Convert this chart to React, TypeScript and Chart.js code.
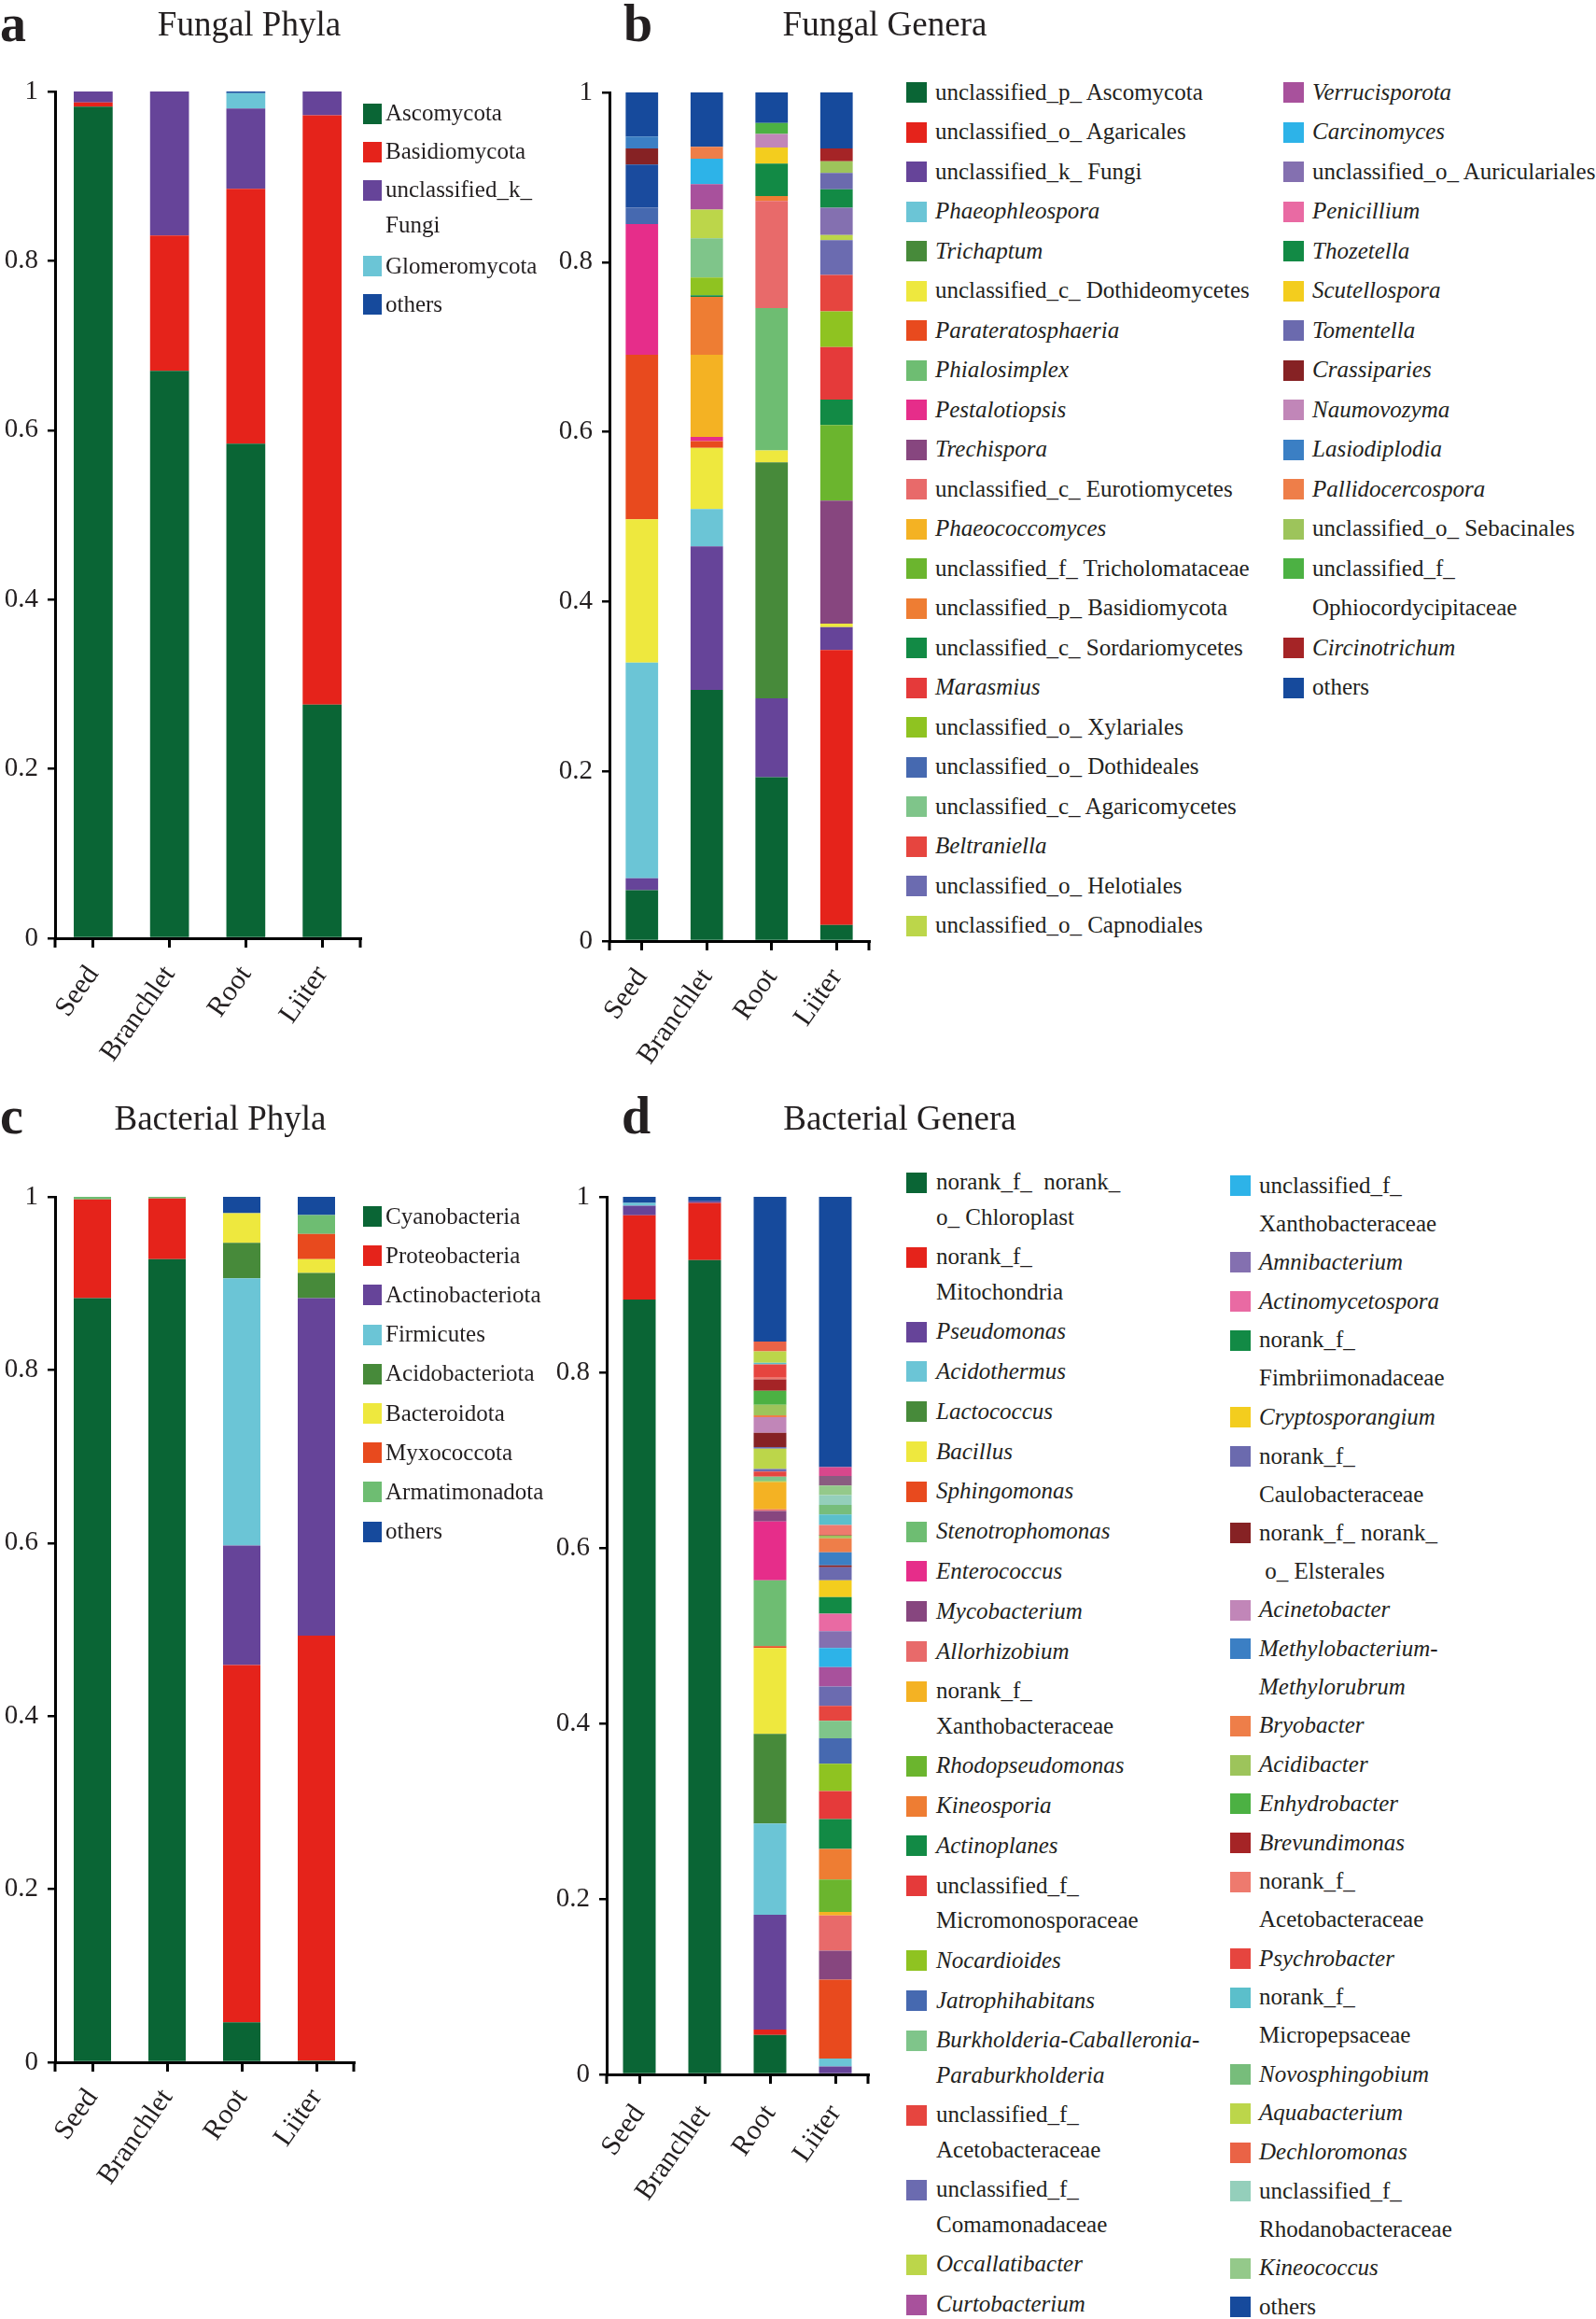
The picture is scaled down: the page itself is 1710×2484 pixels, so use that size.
import React, { useEffect, useRef } from 'react';
import { Chart, registerables } from 'chart.js';

Chart.register(...registerables);

const FONT = "'Liberation Serif', 'Times New Roman', Times, serif";
const INK = '#231f20';

// ---------- shared ----------
const samples = ['Seed', 'Branchlet', 'Root', 'Liiter'];
const yTickValues = [0, 0.2, 0.4, 0.6, 0.8, 1];
const yTickLabels = ['0', '0.2', '0.4', '0.6', '0.8', '1'];

// ---------- a: Fungal Phyla ----------
const fungalPhylaNames = ['Ascomycota', 'Basidiomycota', 'unclassified_k_\nFungi', 'Glomeromycota', 'others'];
const fungalPhylaColors = ['#0a6535', '#e5231b', '#664499', '#6bc5d6', '#164a9c'];
const ascomycota = [0.982, 0.670, 0.584, 0.276];
const basidiomycota = [0.005, 0.160, 0.301, 0.696];
const unclassifiedKFungi = [0.013, 0.170, 0.095, 0.028];
const glomeromycota = [0, 0, 0.018, 0];
const fungalPhylaOthers = [0, 0, 0.002, 0];

// ---------- b: Fungal Genera ----------
const fungalGeneraNames = [
  'unclassified_p_ Ascomycota', 'unclassified_o_ Agaricales', 'unclassified_k_ Fungi', 'Phaeophleospora',
  'Trichaptum', 'unclassified_c_ Dothideomycetes', 'Parateratosphaeria', 'Phialosimplex', 'Pestalotiopsis',
  'Trechispora', 'unclassified_c_ Eurotiomycetes', 'Phaeococcomyces', 'unclassified_f_ Tricholomataceae',
  'unclassified_p_ Basidiomycota', 'unclassified_c_ Sordariomycetes', 'Marasmius', 'unclassified_o_ Xylariales',
  'unclassified_o_ Dothideales', '', 'unclassified_c_ Agaricomycetes', 'Beltraniella', 'unclassified_o_ Helotiales',
  'unclassified_o_ Capnodiales', 'Verrucisporota', 'Carcinomyces', 'unclassified_o_ Auriculariales', 'Penicillium',
  'Thozetella', 'Scutellospora', 'Tomentella', 'Crassiparies', 'Naumovozyma', 'Lasiodiplodia', 'Pallidocercospora',
  'unclassified_o_ Sebacinales', 'unclassified_f_\nOphiocordycipitaceae', 'Circinotrichum', 'others',
];
const fungalGeneraColors = [
  '#0a6535', '#e5231b', '#664499', '#6bc5d6', '#478a3a', '#eee83e', '#e84a1e', '#6ebd72', '#e62d8a', '#87467f',
  '#e86a6a', '#f4b223', '#6bb52e', '#ee7d33', '#128a45', '#e53a3a', '#8fc321', '#4669b0', '#1a4b9e', '#7fc58a',
  '#e6453f', '#6b6bb0', '#bcd64a', '#a8519c', '#2db3e8', '#8470b0', '#e96aa3', '#128a45', '#f3cd1e', '#6b6aae',
  '#862224', '#c186b8', '#3b7fc4', '#ee7e49', '#9dc45b', '#4cb143', '#a52426', '#164a9c',
];
const fgSeed = [
  0.060, 0, 0.014, 0.254, 0, 0.169, 0.194, 0, 0.154, 0,
  0, 0, 0, 0, 0, 0, 0, 0.019, 0.051, 0,
  0, 0, 0, 0, 0, 0, 0, 0, 0, 0,
  0.019, 0, 0.014, 0, 0, 0, 0, 0.052,
];
const fgBranchlet = [
  0.296, 0, 0.169, 0.044, 0, 0.072, 0.008, 0, 0.005, 0,
  0, 0.097, 0, 0.068, 0.002, 0, 0.021, 0, 0, 0.046,
  0, 0, 0.034, 0.030, 0.030, 0, 0, 0, 0, 0,
  0, 0, 0, 0.014, 0, 0, 0, 0.064,
];
const fgRoot = [
  0.193, 0, 0.093, 0, 0.278, 0.014, 0, 0.168, 0, 0,
  0.126, 0, 0, 0.006, 0.038, 0, 0, 0, 0, 0,
  0, 0, 0, 0, 0, 0, 0, 0, 0.019, 0,
  0, 0.016, 0, 0, 0, 0.013, 0, 0.036,
];
const fgLiiter = [
  0.019, 0.324, 0.027, 0, 0, 0.004, 0, 0, 0, 0.145,
  0, 0, 0.089, 0, 0.030, 0.062, 0.042, 0, 0, 0,
  0.043, 0.041, 0.006, 0, 0, 0.032, 0, 0.022, 0, 0.019,
  0, 0, 0, 0, 0.014, 0, 0.015, 0.066,
];

// ---------- c: Bacterial Phyla ----------
const bacterialPhylaNames = ['Cyanobacteria', 'Proteobacteria', 'Actinobacteriota', 'Firmicutes', 'Acidobacteriota',
  'Bacteroidota', 'Myxococcota', 'Armatimonadota', 'others'];
const bacterialPhylaColors = ['#0a6535', '#e5231b', '#664499', '#6bc5d6', '#478a3a', '#eee83e', '#e84a1e', '#6ebd72', '#164a9c'];
const cyanobacteria = [0.883, 0.928, 0.046, 0.002];
const proteobacteria = [0.114, 0.070, 0.413, 0.491];
const actinobacteriota = [0, 0, 0.138, 0.390];
const firmicutes = [0, 0, 0.309, 0];
const acidobacteriota = [0, 0, 0.041, 0.029];
const bacteroidota = [0, 0, 0.034, 0.016];
const myxococcota = [0, 0, 0, 0.029];
const armatimonadota = [0.003, 0.002, 0, 0.022];
const bacterialPhylaOthers = [0, 0, 0.019, 0.021];

// ---------- d: Bacterial Genera ----------
const bacterialGeneraNames = [
  'norank_f_  norank_\no_ Chloroplast', 'norank_f_\nMitochondria', 'Pseudomonas', 'Acidothermus', 'Lactococcus',
  'Bacillus', 'Sphingomonas', 'Stenotrophomonas', 'Enterococcus', 'Mycobacterium', 'Allorhizobium',
  'norank_f_\nXanthobacteraceae', 'Rhodopseudomonas', 'Kineosporia', 'Actinoplanes',
  'unclassified_f_\nMicromonosporaceae', 'Nocardioides', 'Jatrophihabitans',
  'Burkholderia-Caballeronia-\nParaburkholderia', 'unclassified_f_\nAcetobacteraceae',
  'unclassified_f_\nComamonadaceae', 'Occallatibacter', 'Curtobacterium',
  'unclassified_f_\nXanthobacteraceae', 'Amnibacterium', 'Actinomycetospora', 'norank_f_\nFimbriimonadaceae',
  'Cryptosporangium', 'norank_f_\nCaulobacteraceae', 'norank_f_ norank_\n o_ Elsterales', 'Acinetobacter',
  'Methylobacterium-\nMethylorubrum', 'Bryobacter', 'Acidibacter', 'Enhydrobacter', 'Brevundimonas',
  'norank_f_\nAcetobacteraceae', 'Psychrobacter', 'norank_f_\nMicropepsaceae', 'Novosphingobium', 'Aquabacterium',
  'Dechloromonas', 'unclassified_f_\nRhodanobacteraceae', 'Kineococcus', '', '', 'others',
];
const bacterialGeneraColors = [
  '#0a6535', '#e5231b', '#664499', '#6bc5d6', '#478a3a', '#eee83e', '#e84a1e', '#6ebd72', '#e62d8a', '#87467f',
  '#e86a6a', '#f4b223', '#6bb52e', '#ee7d33', '#128a45', '#e53a3a', '#8fc321', '#4669b0', '#7fc58a', '#e6453f',
  '#6b6bb0', '#bcd64a', '#a8519c', '#2db3e8', '#8470b0', '#e96aa3', '#128a45', '#f3cd1e', '#6b6aae', '#862224',
  '#c186b8', '#3b7fc4', '#ee7e49', '#9dc45b', '#4cb143', '#a52426', '#ee7a6e', '#e6453f', '#5bbfcb', '#77bd7b',
  '#bcd64a', '#ea6346', '#94cfbb', '#94c98a', '#8a5c80', '#d8478c', '#164a9c',
];
const bgSeed = [
  0.883, 0.096, 0.011, 0.003, 0, 0, 0, 0, 0, 0,
  0, 0, 0, 0, 0, 0, 0, 0, 0, 0,
  0, 0, 0, 0, 0, 0, 0, 0, 0, 0,
  0, 0, 0, 0, 0, 0, 0, 0, 0, 0,
  0, 0, 0, 0, 0, 0, 0.007,
];
const bgBranchlet = [
  0.928, 0.065, 0.002, 0, 0, 0, 0, 0, 0, 0,
  0, 0, 0, 0, 0, 0, 0, 0, 0, 0,
  0, 0, 0, 0, 0, 0, 0, 0, 0, 0,
  0, 0, 0, 0, 0, 0, 0, 0, 0, 0,
  0, 0, 0, 0, 0, 0, 0.005,
];
const bgRoot = [
  0.045, 0.006, 0.131, 0.104, 0.102, 0.098, 0.002, 0.075, 0.067, 0.012,
  0.002, 0.031, 0, 0, 0, 0, 0.001, 0, 0.005, 0.006,
  0.003, 0.023, 0, 0, 0, 0, 0, 0, 0.002, 0.016,
  0.018, 0, 0.002, 0.012, 0.016, 0.013, 0.002, 0.015, 0.002, 0,
  0.013, 0.011, 0, 0, 0, 0, 0.165,
];
const bgLiiter = [
  0, 0, 0.009, 0.009, 0, 0, 0.090, 0, 0, 0.033,
  0.040, 0.004, 0.037, 0.035, 0.034, 0.032, 0.031, 0.029, 0.020, 0.017,
  0.022, 0, 0.022, 0.022, 0.019, 0.020, 0.019, 0.019, 0.015, 0.002,
  0, 0.015, 0.016, 0.003, 0, 0.001, 0.011, 0, 0.012, 0.011,
  0, 0, 0.011, 0.011, 0.011, 0.010, 0.308,
];

// ---------- chart plumbing ----------
type Series = { label: string; color: string; data: number[] };
type Geom = { x: number; y: number; w: number; h: number; l: number; r: number; t: number; b: number };

const endTicks = {
  id: 'endTicks',
  afterDraw(chart: any) {
    const { ctx, chartArea } = chart;
    ctx.save();
    ctx.strokeStyle = '#000';
    ctx.lineWidth = 3;
    ctx.beginPath();
    for (const x of [chartArea.left, chartArea.right]) {
      ctx.moveTo(x, chartArea.bottom);
      ctx.lineTo(x, chartArea.bottom + 10);
    }
    ctx.stroke();
    ctx.restore();
  },
};

function StackedChart({ geom, series, barPct, xPad }: { geom: Geom; series: Series[]; barPct: number; xPad: number }) {
  const ref = useRef<HTMLCanvasElement>(null);
  useEffect(() => {
    const yW = geom.l - geom.x;
    const xH = geom.y + geom.h - geom.b;
    const chart = new Chart(ref.current as HTMLCanvasElement, {
      type: 'bar',
      data: {
        labels: samples,
        datasets: series.map((s) => ({
          label: s.label.replace('\n', ' '),
          data: s.data,
          backgroundColor: s.color,
          borderWidth: 0,
          barPercentage: barPct,
          categoryPercentage: 1,
        })),
      },
      options: {
        animation: false,
        responsive: false,
        events: [],
        layout: { padding: { top: geom.t - geom.y, right: geom.x + geom.w - geom.r, left: 0, bottom: 0 } },
        plugins: { legend: { display: false }, tooltip: { enabled: false }, title: { display: false } },
        scales: {
          x: {
            stacked: true,
            ticks: {
              font: { size: 30, family: FONT },
              color: INK,
              minRotation: 55,
              maxRotation: 55,
              autoSkip: false,
              padding: xPad,
            },
            grid: { display: true, drawOnChartArea: false, drawTicks: true, tickLength: 10, offset: false, color: '#000', lineWidth: 3 },
            border: { display: true, color: '#000', width: 3 },
            afterFit: (s: any) => { s.height = xH; },
          },
          y: {
            stacked: true,
            min: 0,
            max: 1,
            afterBuildTicks: (s: any) => { s.ticks = yTickValues.map((v) => ({ value: v })); },
            ticks: {
              font: { size: 29, family: FONT },
              color: INK,
              padding: 10,
              callback: (_v: any, i: number) => yTickLabels[i],
            },
            grid: { display: true, drawOnChartArea: false, drawTicks: true, tickLength: 8, color: '#000', lineWidth: 2.5 },
            border: { display: true, color: '#000', width: 3 },
            afterFit: (s: any) => { s.width = yW; },
          },
        },
      } as any,
      plugins: [endTicks],
    });
    return () => chart.destroy();
  }, []);
  return (
    <canvas
      ref={ref}
      width={geom.w}
      height={geom.h}
      style={{ position: 'absolute', left: geom.x, top: geom.y, width: geom.w, height: geom.h }}
    />
  );
}

type LegendProps = {
  names: string[]; colors: string[]; italicGenus: boolean;
  boxX: number; textX: number; y0: number; single: number; double: number; gap: number;
  boxW: number; boxH: number;
};

function Legend(p: LegendProps) {
  const els: any[] = [];
  let y = p.y0;
  p.names.forEach((name, i) => {
    const lines = name.split('\n');
    const italic = p.italicGenus && !/^(unclassified|norank|others)/.test(name);
    els.push(
      <div key={'b' + i} style={{ position: 'absolute', left: p.boxX, top: y - p.boxH / 2, width: p.boxW, height: p.boxH, background: p.colors[i] }} />
    );
    lines.forEach((ln, j) => {
      els.push(
        <div
          key={'t' + i + '_' + j}
          style={{
            position: 'absolute', left: p.textX, top: y + j * p.gap - 15.4, fontSize: 25, lineHeight: '30px',
            fontStyle: italic ? 'italic' : 'normal', whiteSpace: 'pre',
          }}
        >
          {ln}
        </div>
      );
    });
    y += lines.length > 1 ? p.double : p.single;
  });
  return <>{els}</>;
}

function Txt({ x, baseline, size, bold, center, children }: any) {
  return (
    <div
      style={{
        position: 'absolute', left: x, top: baseline - 0.8375 * size, fontSize: size, lineHeight: `${size}px`,
        fontWeight: bold ? 700 : 400, whiteSpace: 'nowrap', transform: center ? 'translateX(-50%)' : undefined,
      }}
    >
      {children}
    </div>
  );
}

function legendOf(names: string[], colors: string[]) {
  const n: string[] = [];
  const c: string[] = [];
  names.forEach((x, i) => { if (x) { n.push(x); c.push(colors[i]); } });
  return { n, c };
}

export default function App() {
  const seriesA: Series[] = [ascomycota, basidiomycota, unclassifiedKFungi, glomeromycota, fungalPhylaOthers].map((d, i) => ({
    label: fungalPhylaNames[i], color: fungalPhylaColors[i], data: d,
  }));
  const seriesB: Series[] = fungalGeneraNames.map((n, i) => ({
    label: n, color: fungalGeneraColors[i], data: [fgSeed[i], fgBranchlet[i], fgRoot[i], fgLiiter[i]],
  }));
  const seriesC: Series[] = [cyanobacteria, proteobacteria, actinobacteriota, firmicutes, acidobacteriota, bacteroidota,
    myxococcota, armatimonadota, bacterialPhylaOthers].map((d, i) => ({
    label: bacterialPhylaNames[i], color: bacterialPhylaColors[i], data: d,
  }));
  const seriesD: Series[] = bacterialGeneraNames.map((n, i) => ({
    label: n, color: bacterialGeneraColors[i], data: [bgSeed[i], bgBranchlet[i], bgRoot[i], bgLiiter[i]],
  }));

  const lb = legendOf(fungalGeneraNames, fungalGeneraColors);
  const ld = legendOf(bacterialGeneraNames, bacterialGeneraColors);

  return (
    <div style={{ position: 'absolute', left: 0, top: 0, width: 1710, height: 2484, background: '#fff', overflow: 'hidden', fontFamily: FONT, color: INK }}>
      <StackedChart geom={{ x: 0, y: 0, w: 400, h: 1150, l: 59, r: 386, t: 98, b: 1005 }} series={seriesA} barPct={0.51} xPad={13} />
      <StackedChart geom={{ x: 575, y: 0, w: 375, h: 1150, l: 653, r: 931, t: 99, b: 1008 }} series={seriesB} barPct={0.5} xPad={13} />
      <StackedChart geom={{ x: 0, y: 1180, w: 400, h: 1220, l: 59, r: 379, t: 1282, b: 2209 }} series={seriesC} barPct={0.5} xPad={12} />
      <StackedChart geom={{ x: 575, y: 1180, w: 375, h: 1220, l: 650, r: 930, t: 1282, b: 2222 }} series={seriesD} barPct={0.5} xPad={16} />

      <Txt x={0} baseline={44} size={56} bold>a</Txt>
      <Txt x={668} baseline={44} size={56} bold>b</Txt>
      <Txt x={0} baseline={1214} size={56} bold>c</Txt>
      <Txt x={666} baseline={1214} size={56} bold>d</Txt>

      <Txt x={267} baseline={38} size={37} center>Fungal Phyla</Txt>
      <Txt x={948} baseline={38} size={37} center>Fungal Genera</Txt>
      <Txt x={236} baseline={1210} size={37} center>Bacterial Phyla</Txt>
      <Txt x={964} baseline={1210} size={37} center>Bacterial Genera</Txt>

      <Legend names={fungalPhylaNames} colors={fungalPhylaColors} italicGenus={false}
        boxX={389} textX={413} y0={121.5} single={41} double={81.4} gap={38} boxW={20} boxH={22} />
      <Legend names={bacterialPhylaNames} colors={bacterialPhylaColors} italicGenus={false}
        boxX={389} textX={413} y0={1303} single={42.2} double={84} gap={42} boxW={20} boxH={22} />

      <Legend names={lb.n.slice(0, 22)} colors={lb.c.slice(0, 22)} italicGenus
        boxX={971} textX={1002} y0={99} single={42.5} double={85} gap={42} boxW={22} boxH={22} />
      <Legend names={lb.n.slice(22)} colors={lb.c.slice(22)} italicGenus
        boxX={1375} textX={1406} y0={99} single={42.5} double={85} gap={42} boxW={22} boxH={22} />

      <Legend names={ld.n.slice(0, 23)} colors={ld.c.slice(0, 23)} italicGenus
        boxX={971} textX={1003} y0={1266.5} single={42.8} double={80} gap={37.5} boxW={22} boxH={22} />
      <Legend names={ld.n.slice(23)} colors={ld.c.slice(23)} italicGenus
        boxX={1318} textX={1349} y0={1270} single={41.7} double={82.4} gap={41} boxW={22} boxH={22} />
    </div>
  );
}
